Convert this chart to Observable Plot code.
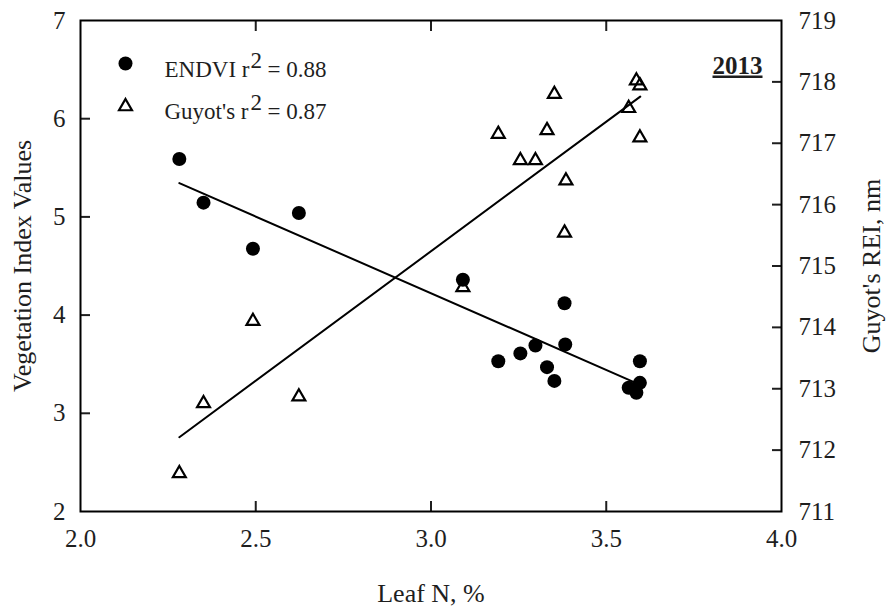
<!DOCTYPE html>
<html><head><meta charset="utf-8">
<script src="https://cdn.jsdelivr.net/npm/d3@7"></script>
<script src="https://cdn.jsdelivr.net/npm/@observablehq/plot@0.6"></script>
<style>
html,body{margin:0;padding:0;background:#fff;}
#chart svg{display:block;}
#chart svg text{font-family:"Liberation Serif","Times New Roman",serif !important;font-variant-numeric:normal !important;}
</style></head><body><div id="chart"></div>
<script>
// ENDVI (left axis, filled circles)
const endviN      = [2.282, 2.351, 2.492, 2.623, 3.091, 3.192, 3.255, 3.298, 3.331, 3.352, 3.381, 3.383, 3.564, 3.586, 3.596, 3.596];
const endviValues = [5.59, 5.145, 4.676, 5.04, 4.36, 3.53, 3.61, 3.69, 3.47, 3.33, 4.12, 3.70, 3.26, 3.21, 3.53, 3.31];
// Guyot's REI (right axis, open triangles)
const guyotN      = [2.282, 2.351, 2.492, 2.623, 3.091, 3.192, 3.255, 3.298, 3.331, 3.352, 3.381, 3.385, 3.564, 3.586, 3.596, 3.596];
const guyotValues = [711.62, 712.76, 714.10, 712.87, 714.65, 717.15, 716.72, 716.72, 717.21, 717.80, 715.54, 716.39, 717.57, 718.02, 717.94, 717.09];
// fitted regression lines (end points)
const fitN      = [2.282, 3.597];
const endviFit  = [5.344, 3.29];
const guyotFit  = [712.21, 717.76];
// ticks
const xTicks      = [2.0, 2.5, 3.0, 3.5, 4.0];
const xInnerTicks = [2.5, 3.0, 3.5];
const leftTicks   = [2, 3, 4, 5, 6, 7];
const leftInner   = [3, 4, 5, 6];
const rightTicks  = [711, 712, 713, 714, 715, 716, 717, 718, 719];
const rightInner  = [712, 713, 714, 715, 716, 717, 718];
// texts
const legendLabels = ["ENDVI r", "Guyot's r"];
const legendR2     = ["= 0.88", "= 0.87"];
const yearLabel    = "2013";
const xTitle = "Leaf N, %";
const yLeftTitle = "Vegetation Index Values";
const yRightTitle = "Guyot's REI, nm";

// map right-axis values into the left-axis scale
const toLeft = v => 2 + (v - 711) * 5 / 8;
const fromLeft = d => Math.round(711 + (d - 2) * 8 / 5);

const endvi = endviN.map((n, i) => ({n, v: endviValues[i]}));
const guyot = guyotN.map((n, i) => ({n, v: guyotValues[i]}));
const endviLine = fitN.map((n, i) => ({n, v: endviFit[i]}));
const guyotLine = fitN.map((n, i) => ({n, v: guyotFit[i]}));

const TXT = "#1e1e1e";
const FS = 25;
const FF = "Liberation Serif";

const legendMarks = [];
const rowDy = [56, 98];
const symDy = [43, 86];
legendLabels.forEach((lab, i) => {
  legendMarks.push(Plot.text([lab], {frameAnchor: "top-left", text: d => d, dx: 84, dy: rowDy[i], textAnchor: "start", lineAnchor: "bottom", fontSize: 23, fontFamily: FF, fill: TXT}));
  legendMarks.push(Plot.text(["2"], {frameAnchor: "top-left", text: d => d, dx: 170, dy: rowDy[i] - 9, textAnchor: "start", lineAnchor: "bottom", fontSize: 23, fontFamily: FF, fill: TXT}));
  legendMarks.push(Plot.text([legendR2[i]], {frameAnchor: "top-left", text: d => d, dx: 187, dy: rowDy[i], textAnchor: "start", lineAnchor: "bottom", fontSize: 23, fontFamily: FF, fill: TXT}));
});
legendMarks.push(Plot.dot([0], {frameAnchor: "top-left", dx: 45, dy: symDy[0], r: 7, fill: "black", stroke: "none"}));
legendMarks.push(Plot.dot([0], {frameAnchor: "top-left", dx: 45, dy: symDy[1], r: 4.8, symbol: "triangle", fill: "none", stroke: "black", strokeWidth: 2.2}));

const chart = Plot.plot({
  width: 886, height: 606,
  marginLeft: 80, marginRight: 105, marginTop: 20, marginBottom: 95,
  style: {fontFamily: FF, fontSize: FS + "px", color: TXT, background: "#fff"},
  x: {domain: [2, 4]},
  y: {domain: [2, 7]},
  marks: [
    // tick labels
    Plot.axisX({ticks: xTicks, tickFormat: d3.format(".1f"), tickSize: 0, tickPadding: 18, label: null, fontSize: FS, fontFamily: FF, fill: TXT}),
    Plot.axisY({anchor: "left", ticks: leftTicks, tickFormat: d3.format("d"), tickSize: 0, tickPadding: 15, label: null, fontSize: FS, fontFamily: FF, fill: TXT}),
    Plot.axisY({anchor: "right", ticks: rightTicks.map(toLeft), tickFormat: fromLeft, tickSize: 0, tickPadding: 17, label: null, fontSize: FS, fontFamily: FF, fill: TXT}),
    // inward tick marks
    Plot.axisX({anchor: "bottom", ticks: xInnerTicks, text: null, tickSize: 10, dy: -10, label: null, strokeWidth: 2}),
    Plot.axisX({anchor: "top", ticks: xInnerTicks, text: null, tickSize: 10, dy: 10, label: null, strokeWidth: 2}),
    Plot.axisY({anchor: "left", ticks: leftInner, text: null, tickSize: 10, dx: 10, label: null, strokeWidth: 2}),
    Plot.axisY({anchor: "right", ticks: rightInner.map(toLeft), text: null, tickSize: 10, dx: -10, label: null, strokeWidth: 2}),
    Plot.frame({stroke: "black", strokeWidth: 2}),
    // regression lines
    Plot.line(endviLine, {x: "n", y: "v", stroke: "black", strokeWidth: 2}),
    Plot.line(guyotLine, {x: "n", y: d => toLeft(d.v), stroke: "black", strokeWidth: 2}),
    // data
    Plot.dot(endvi, {x: "n", y: "v", r: 7, fill: "black", stroke: "none"}),
    Plot.dot(guyot, {x: "n", y: d => toLeft(d.v), r: 4.8, symbol: "triangle", fill: "none", stroke: "black", strokeWidth: 2.2}),
    // titles
    Plot.text([xTitle], {frameAnchor: "bottom", text: d => d, dy: 90, textAnchor: "middle", lineAnchor: "bottom", fontSize: 26, fontFamily: FF, fill: TXT}),
    Plot.text([yLeftTitle], {frameAnchor: "left", text: d => d, rotate: -90, dx: -58, textAnchor: "middle", lineAnchor: "middle", fontSize: 26, fontFamily: FF, fill: TXT}),
    Plot.text([yRightTitle], {frameAnchor: "right", text: d => d, rotate: -90, dx: 90, textAnchor: "middle", lineAnchor: "middle", fontSize: 26, fontFamily: FF, fill: TXT}),
    Plot.text([yearLabel], {frameAnchor: "top-right", text: d => d, dx: -19, dy: 53, textAnchor: "end", lineAnchor: "bottom", fontSize: 25, fontWeight: "bold", fontFamily: FF, fill: TXT}),
    ...legendMarks
  ]
});
chart.querySelectorAll("text").forEach(t => {
  if (t.textContent === yearLabel) t.style.textDecoration = "underline";
});
document.getElementById("chart").appendChild(chart);
</script>
</body></html>
